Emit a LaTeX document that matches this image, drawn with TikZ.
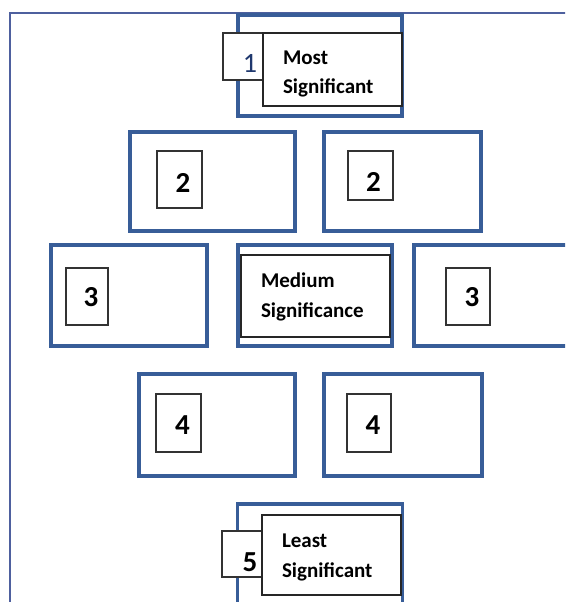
\documentclass[tikz,border=0pt]{standalone}
\usepackage{fontspec}
\setmainfont{Carlito}
\definecolor{sigblue}{RGB}{56,93,152}
\definecolor{frameblue}{RGB}{78,96,158}
\definecolor{numnavy}{RGB}{31,56,110}
\tikzset{
    sigbox/.style={draw=sigblue, line width=3.6pt, fill=white, inner sep=0pt},
    numbox/.style={draw=black!80, line width=1.3pt, fill=white, inner sep=0pt,
      text depth=0pt, font=\bfseries\fontsize{29}{29}\selectfont},
    nudge/.style={execute at begin node={\hspace*{#1}}},
    txtbox/.style={draw=black!85, line width=1.3pt, fill=white, inner xsep=20pt,
      inner ysep=0pt, align=left, text width=#1,
      font=\bfseries\fontsize{21}{29.5}\selectfont},
    drop/.style={text height=20pt, text depth=#1},
}

\begin{document}
\begin{tikzpicture}[x=1pt, y=-1pt]
    \useasboundingbox (0,0) rectangle (565,602);
    \clip (0,0) rectangle (565,602);

    % page frame
    \coordinate (ftr) at (570,13);
    \coordinate (fbl) at (10,610);
    \draw[frameblue, line width=2pt] (ftr) -| (fbl);

    % most significant
    \node[sigbox, minimum width=164pt, minimum height=101pt] (b1) at (320,65.5) {};
    \node[numbox, text height=31pt, minimum width=54pt, minimum height=47pt,
      font=\fontsize{28}{28}\selectfont, text=numnavy] (n1) at (250,56.5) {1};
    \node[txtbox=99pt, drop=30.5pt, minimum height=73pt] (t1) at (332.5,69.5) {Most\\Significant};

    % row 2
    \node[sigbox, minimum width=165pt, minimum height=99pt] (b2l) at (212.5,181.5) {};
    \node[sigbox, minimum width=157pt, minimum height=99pt] (b2r) at (402.5,181.5) {};
    \node[numbox, nudge=7pt, text height=25pt, minimum width=45pt, minimum height=57pt] (n2l) at (179.5,179.5) {2};
    \node[numbox, nudge=6pt, text height=31pt, minimum width=45pt, minimum height=49pt] (n2r) at (370.5,175.5) {2};

    % row 3
    \node[sigbox, minimum width=156pt, minimum height=101pt] (b3l) at (129,295.5) {};
    \node[sigbox, minimum width=154pt, minimum height=101pt] (b3m) at (315,295.5) {};
    \node[sigbox, minimum width=156pt, minimum height=101pt] (b3r) at (492,295.5) {};
    \node[numbox, nudge=8pt, text height=20pt, minimum width=42pt, minimum height=57pt] (n3l) at (87,296.5) {3};
    \node[numbox, nudge=8pt, text height=20pt, minimum width=44pt, minimum height=57pt] (n3r) at (468,296.5) {3};
    \node[txtbox=109pt, drop=36.5pt, minimum height=82pt] (t3) at (315.5,296) {Medium\\Significance};

    % row 4
    \node[sigbox, minimum width=156pt, minimum height=102pt] (b4l) at (217,425) {};
    \node[sigbox, minimum width=158pt, minimum height=102pt] (b4r) at (403,425) {};
    \node[numbox, nudge=8pt, text height=22pt, minimum width=45pt, minimum height=58pt] (n4l) at (178.5,423) {4};
    \node[numbox, nudge=8pt, text height=22pt, minimum width=44pt, minimum height=58pt] (n4r) at (369,423) {4};

    % least significant
    \node[sigbox, minimum width=165pt, minimum height=106pt] (b5) at (320,557) {};
    \node[numbox, text height=34pt, minimum width=56pt, minimum height=46pt] (n5) at (250,554) {5};
    \node[txtbox=99pt, drop=34.5pt, minimum height=80pt] (t5) at (331.5,555) {Least\\Significant};
\end{tikzpicture}
\end{document}
